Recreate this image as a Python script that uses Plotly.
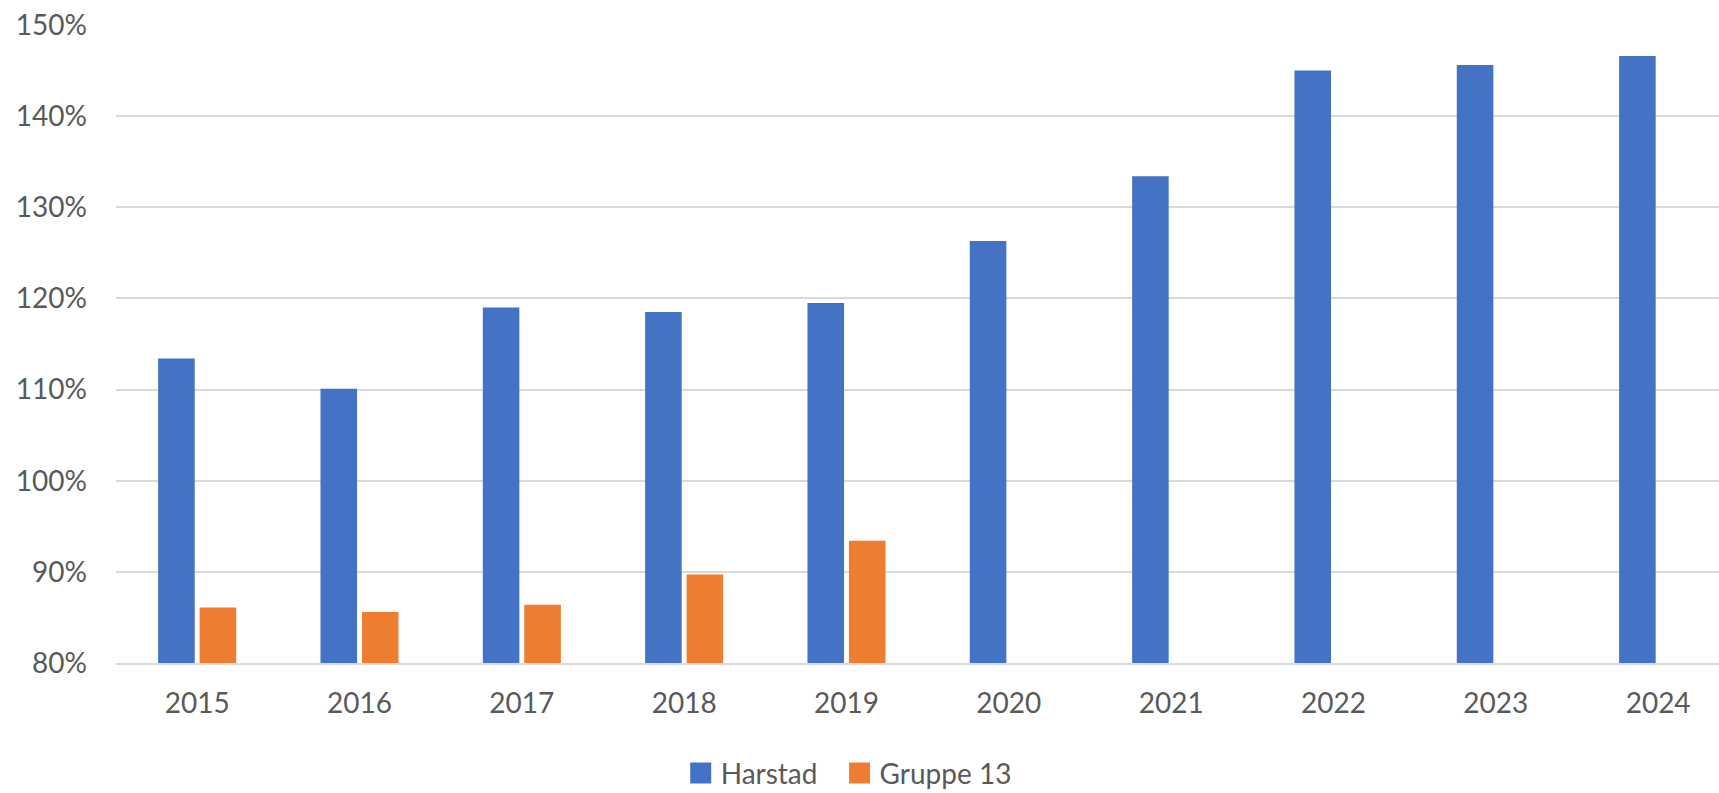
import plotly.graph_objects as go

years = ["2015", "2016", "2017", "2018", "2019", "2020", "2021", "2022", "2023", "2024"]
harstad = [1.134, 1.101, 1.190, 1.185, 1.195, 1.263, 1.334, 1.450, 1.456, 1.466]
gruppe13 = [0.861, 0.856, 0.864, 0.897, 0.934, None, None, None, None, None]
series_names = ["Harstad", "Gruppe 13"]
colors = ["#4472C4", "#ED7D31"]
y_ticks = [0.8, 0.9, 1.0, 1.1, 1.2, 1.3, 1.4, 1.5]

FONT = "Lato, 'Open Sans', sans-serif"
TXT = "#595959"
GRID = "#D9D9D9"

fig = go.Figure()
for name, vals, col in zip(series_names, [harstad, gruppe13], colors):
    fig.add_trace(go.Bar(x=years, y=vals, name=name, marker=dict(color=col, line=dict(width=0)),
                         showlegend=False))
for name, col, lg in zip(series_names, colors, ["legend", "legend2"]):
    fig.add_trace(go.Scatter(x=[None], y=[None], mode="markers", name=name, legend=lg,
                             marker=dict(symbol="square", size=18, color=col,
                                         line=dict(width=5, color=col))))

leg_common = dict(orientation="h", xref="container", yref="container",
                  xanchor="left", y=0.025, yanchor="middle",
                  font=dict(family=FONT, size=28, color=TXT), itemclick=False,
                  bgcolor="rgba(0,0,0,0)")

fig.update_layout(
    width=1719, height=793,
    margin=dict(l=116, r=0, t=25, b=130, autoexpand=False),
    paper_bgcolor="white", plot_bgcolor="white",
    font=dict(family=FONT, size=28, color=TXT),
    barmode="group", bargap=0.489, bargroupgap=0.118,
    showlegend=True,
    legend=dict(x=0.396, **leg_common),
    legend2=dict(x=0.4884, **leg_common),
    xaxis=dict(type="category", range=[-0.5, 9.375], showgrid=False, automargin=False,
               showline=True, linecolor=GRID, linewidth=2,
               ticks="", ticklabelstandoff=14, tickfont=dict(size=28, color=TXT)),
    yaxis=dict(range=[0.8, 1.5], tickvals=y_ticks, tickformat=".0%", automargin=False,
               showgrid=True, gridcolor=GRID, gridwidth=2, zeroline=False,
               showline=False, ticks="", ticklabelstandoff=28,
               tickfont=dict(size=28, color=TXT)),
)

fig.write_html("out.html", config={"displayModeBar": False},
               post_script="document.body.style.margin='0';document.body.style.overflow='hidden';")
